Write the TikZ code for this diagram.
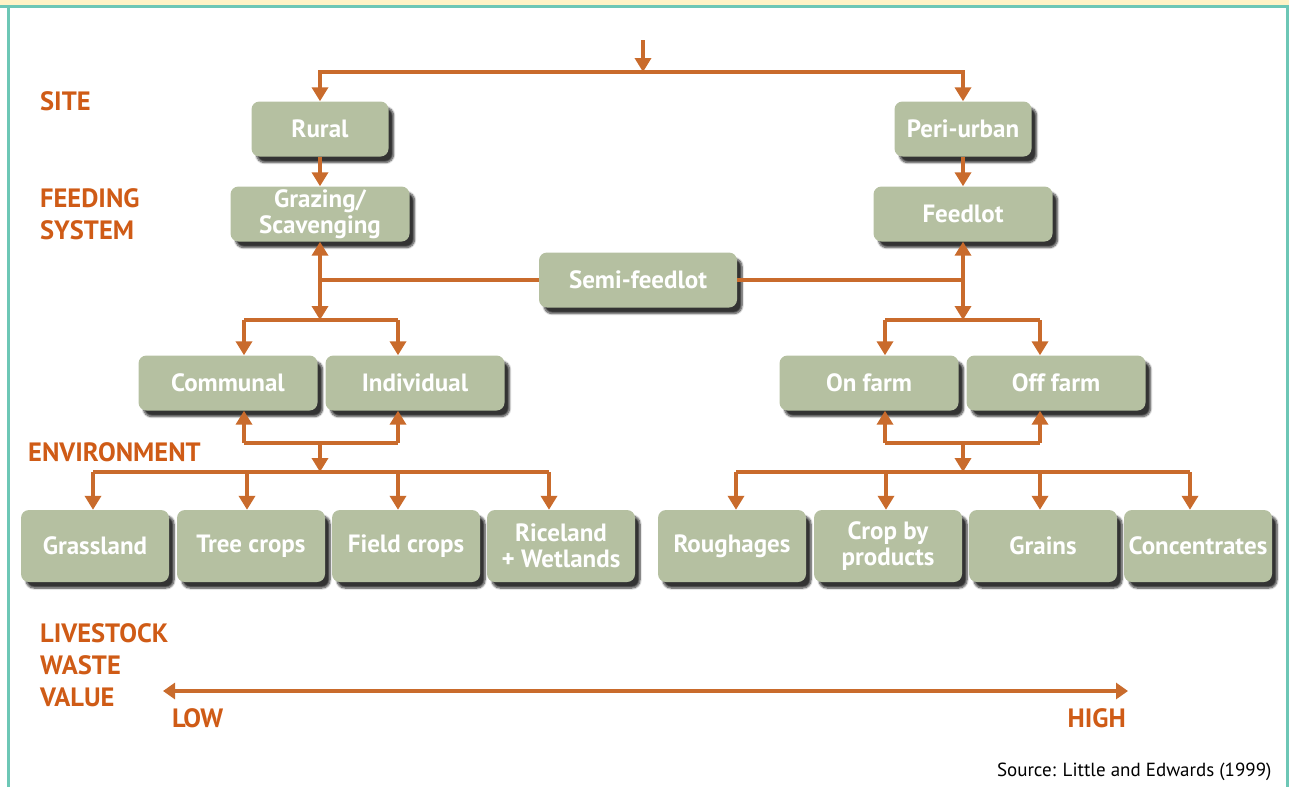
\documentclass[tikz,border=0pt]{standalone}
\usepackage{fontspec}
\setmainfont{PT Sans}
\usetikzlibrary{arrows.meta,shadows.blur}
\definecolor{boxfill}{HTML}{B5C0A1}
\definecolor{arrowc}{HTML}{C96B2C}
\definecolor{labelc}{HTML}{CF5B16}
\definecolor{frameline}{HTML}{6DC7B6}
\definecolor{band}{HTML}{FFF3C6}
\tikzset{
	box/.style={rounded corners=8pt, fill=boxfill, text=white, align=center,
		font=\fontsize{25}{26}\selectfont\bfseries, inner sep=2pt,
		minimum width=179pt, minimum height=55pt,
		blur shadow={shadow xshift=5pt, shadow yshift=-6pt, shadow blur steps=8, shadow opacity=80}},
	leaf/.style={box, minimum width=148pt, minimum height=72pt},
	level/.style={anchor=west, align=left, text=labelc, font=\fontsize{26.5}{32}\selectfont\bfseries, inner sep=0pt},
	wire/.style={draw=arrowc, line width=4pt},
	link/.style={wire, -{Triangle[width=16pt,length=14pt]}}
}
\begin{document}
\begin{tikzpicture}[x=1pt, y=-1pt]
			\useasboundingbox (0,0) rectangle (1289,787);
			% frame
			\fill[band] (0,0) rectangle (1289,5);
			\draw[frameline, line width=3pt] (0,6) -- (1289,6);
			\draw[frameline, line width=3pt] (8,6) -- (8,787);
			\draw[frameline, line width=3pt] (1287,6) -- (1287,787);
			% level labels
			\node[level] (site) at (40,101) {SITE};
			\node[level] (feeding) at (40,214) {FEEDING\\SYSTEM};
			\node[level] (environment) at (28,452) {ENVIRONMENT};
			\node[level] (livestock) at (40,665) {LIVESTOCK\\WASTE\\VALUE};
			% boxes
			\node[box, minimum width=137pt] (rural) at (320,129) {Rural};
			\node[box, minimum width=137pt] (periurban) at (963,129) {Peri-urban};
			\node[box] (grazing) at (320,214) {Grazing/\\Scavenging};
			\node[box] (feedlot) at (963,214) {Feedlot};
			\node[box, minimum width=198pt] (semi) at (638,280) {Semi-feedlot};
			\node[box] (communal) at (228,383) {Communal};
			\node[box] (individual) at (415,383) {Individual};
			\node[box] (onfarm) at (869,383) {On farm};
			\node[box] (offfarm) at (1056,383) {Off farm};
			\foreach \name/\x/\txt in {grass/95/Grassland, tree/251/Tree crops, field/406/Field crops, rice/561/{Riceland\\+ Wetlands},
				rough/732/Roughages, crop/888/{Crop by\\products}, grain/1043/Grains, conc/1198/Concentrates}
				{
					\node[leaf] (\name) at (\x,546) {\txt};
				}
			% site
			\coordinate (start) at (643,40);
			\coordinate (split) at (643,72);
			\draw[link] (start) -- (split);
			\draw[link] (split) -| (rural);
			\draw[link] (split) -| (periurban);
			\draw[link] (rural) -- (grazing);
			\draw[link] (periurban) -- (feedlot);
			% feeding system
			\coordinate (lj) at (grazing |- semi);
			\coordinate (rj) at (feedlot |- semi);
			\draw[wire] (semi.west) -- (lj);
			\draw[wire] (semi.east) -- (rj);
			\draw[link] (lj) -- (grazing);
			\draw[link] (rj) -- (feedlot);
			\coordinate (lbar) at (320,320);
			\coordinate (rbar) at (963,320);
			\draw[link] (lj) -- (lbar);
			\draw[link] (rj) -- (rbar);
			\foreach \a/\b/\n in {244/398/l, 885/1040/r}
				{
					\coordinate (\n top1) at (\a,320);
					\coordinate (\n top2) at (\b,320);
					\coordinate (\n bot1) at (\a,443);
					\coordinate (\n bot2) at (\b,443);
					\draw[wire] (\n top1) -- (\n top2);
					\draw[wire] (\n bot1) -- (\n bot2);
				}
			\draw[link] (ltop1) -- (ltop1 |- communal.north);
			\draw[link] (ltop2) -- (ltop2 |- individual.north);
			\draw[link] (rtop1) -- (rtop1 |- onfarm.north);
			\draw[link] (rtop2) -- (rtop2 |- offfarm.north);
			\draw[link] (lbot1) -- (lbot1 |- communal.south);
			\draw[link] (lbot2) -- (lbot2 |- individual.south);
			\draw[link] (rbot1) -- (rbot1 |- onfarm.south);
			\draw[link] (rbot2) -- (rbot2 |- offfarm.south);
			% environment
			\coordinate (lmid) at (320,443);
			\coordinate (lrow) at (320,472);
			\coordinate (rmid) at (963,443);
			\coordinate (rrow) at (963,472);
			\draw[link] (lmid) -- (lrow);
			\draw[link] (rmid) -- (rrow);
			\draw[wire] (93,472) -- (549,472);
			\draw[wire] (736,472) -- (1190,472);
			\foreach \n/\x in {grass/93, tree/247, field/398, rice/549, rough/736, crop/886, grain/1040, conc/1190}
				{
					\coordinate (d\n) at (\x,472);
					\draw[link] (d\n) -- (d\n |- \n.north);
				}
			% waste value
			\coordinate (low) at (163,691);
			\coordinate (high) at (1128,691);
			\draw[wire, {Triangle[width=16pt,length=12pt]}-{Triangle[width=16pt,length=12pt]}] (low) -- (high);
			\node[level] (lowtext) at (172,718) {LOW};
			\node[level, anchor=east] (hightext) at (1126,718) {HIGH};
			\node[anchor=east, font=\fontsize{19}{19}\selectfont] (source) at (1275,772) {Source: Little and Edwards (1999)};
		\end{tikzpicture}
\end{document}
